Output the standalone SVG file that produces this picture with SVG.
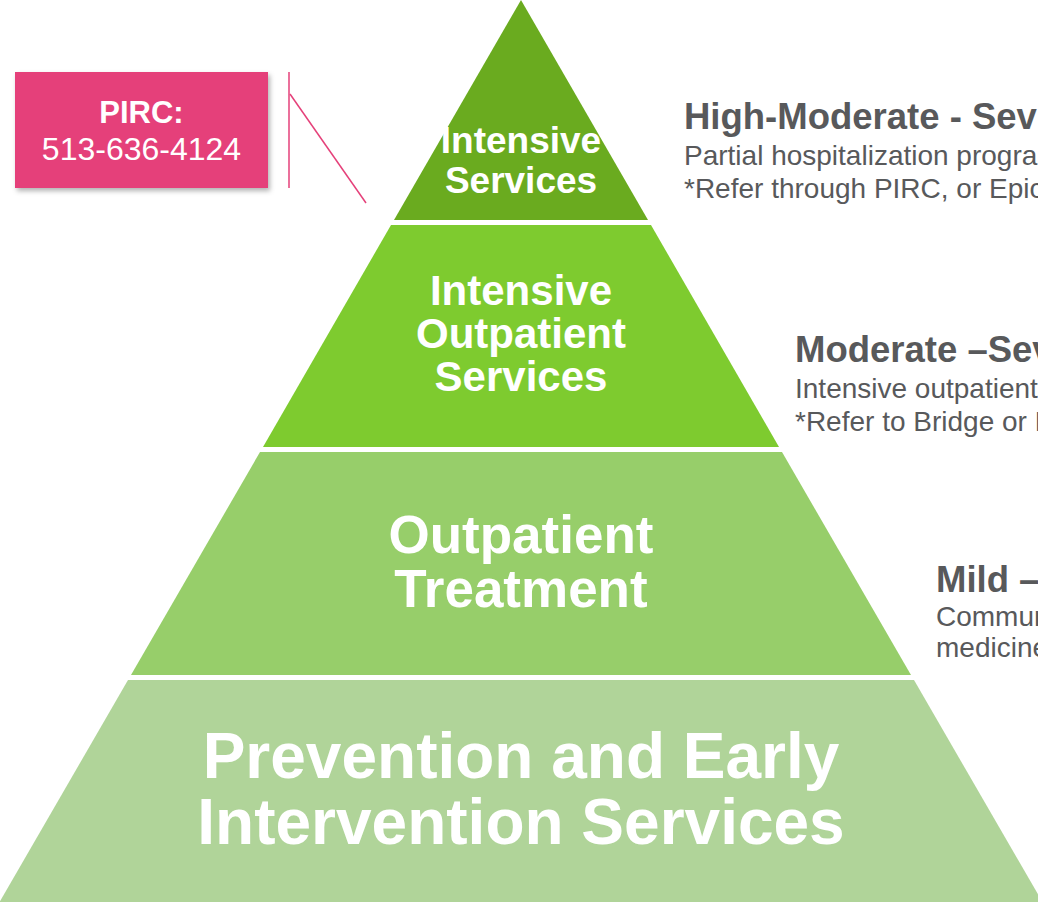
<svg xmlns="http://www.w3.org/2000/svg" width="1038" height="902" viewBox="0 0 1038 902">
  <defs>
    <filter id="shadow" x="-10%" y="-10%" width="130%" height="140%">
      <feDropShadow dx="2" dy="3" stdDeviation="2.5" flood-color="#000" flood-opacity="0.3"/>
    </filter>
    <style>
      .tier-text { font-family: "Liberation Sans", Arial, sans-serif; font-weight: bold; fill: #ffffff; text-anchor: middle; }
      .title { font-family: "Liberation Sans", Arial, sans-serif; font-weight: bold; font-size: 36.5px; fill: #58595B; }
      .sub { font-family: "Liberation Sans", Arial, sans-serif; font-size: 28px; fill: #58595B; }
      .pink-line { stroke: #E5417A; stroke-width: 1.5; fill: none; }
    </style>
  </defs>
  <rect width="1038" height="902" fill="#ffffff"/>

  <g id="tier-intensive">
    <polygon points="521,0 394,220 648,220" fill="#6AAB1F"/>
    <text class="tier-text" font-size="37" x="521" y="153">Intensive</text>
    <text class="tier-text" font-size="37" x="521" y="193">Services</text>
  </g>

  <g id="tier-iop">
    <polygon points="391,225 651,225 779,447 263,447" fill="#7ECB2F"/>
    <text class="tier-text" font-size="42" x="521" y="305">Intensive</text>
    <text class="tier-text" font-size="42" x="521" y="348">Outpatient</text>
    <text class="tier-text" font-size="42" x="521" y="391">Services</text>
  </g>

  <g id="tier-outpatient">
    <polygon points="260,452 782,452 911,675 131,675" fill="#97CE6A"/>
    <text class="tier-text" font-size="53" x="521" y="553">Outpatient</text>
    <text class="tier-text" font-size="53" x="521" y="607">Treatment</text>
  </g>

  <g id="tier-prevention">
    <polygon points="128,680 914,680 1043,903 -1,903" fill="#B0D499"/>
    <text class="tier-text" font-size="64" x="521" y="778">Prevention and Early</text>
    <text class="tier-text" font-size="64" x="521" y="844">Intervention Services</text>
  </g>

  <g id="pirc-box">
    <rect x="15" y="72" width="253" height="116" fill="#E5417A" filter="url(#shadow)"/>
    <text x="141.5" y="123" font-family="Liberation Sans, Arial, sans-serif" font-weight="bold" font-size="31" fill="#ffffff" text-anchor="middle">PIRC:</text>
    <text x="141.5" y="160" font-family="Liberation Sans, Arial, sans-serif" font-size="32" fill="#ffffff" text-anchor="middle">513-636-4124</text>
  </g>

  <g id="connectors">
    <line class="pink-line" x1="289" y1="72" x2="289" y2="188"/>
    <line class="pink-line" x1="290" y1="94" x2="366" y2="203"/>
  </g>

  <g id="label-high">
    <text class="title" x="684" y="129">High-Moderate - Sev</text>
    <text class="sub" x="684" y="165">Partial hospitalization progra</text>
    <text class="sub" x="684" y="198">*Refer through PIRC, or Epic</text>
  </g>

  <g id="label-moderate">
    <text class="title" x="795" y="362">Moderate –Sev</text>
    <text class="sub" x="795" y="398">Intensive outpatient</text>
    <text class="sub" x="795" y="431">*Refer to Bridge or E</text>
  </g>

  <g id="label-mild">
    <text class="title" x="936" y="592">Mild –</text>
    <text class="sub" x="936" y="626">Commun</text>
    <text class="sub" x="936" y="657">medicine</text>
  </g>
</svg>
